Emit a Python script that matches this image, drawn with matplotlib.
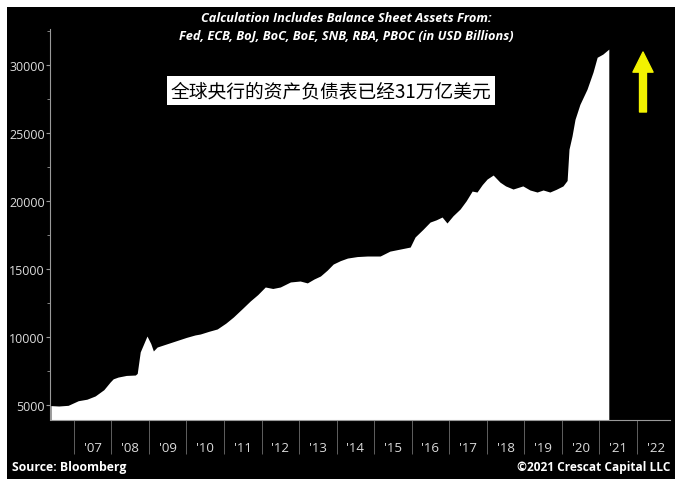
import matplotlib
matplotlib.use("Agg")
import matplotlib.pyplot as plt
from matplotlib.patches import Rectangle
from matplotlib.ticker import FixedLocator, MultipleLocator

plt.rcParams['font.family'] = ['Open Sans', 'DejaVu Sans']

# balance sheet assets, USD billions
years = [2006.39, 2006.60, 2006.85, 2007.12, 2007.35, 2007.57, 2007.80, 2007.97,
         2008.05, 2008.18, 2008.40, 2008.64, 2008.69, 2008.77, 2008.85, 2008.95,
         2009.05, 2009.12, 2009.22, 2009.45, 2009.78, 2010.00, 2010.23, 2010.37,
         2010.60, 2010.82, 2011.05, 2011.25, 2011.50, 2011.70, 2011.90, 2012.10,
         2012.30, 2012.50, 2012.77, 2013.03, 2013.22, 2013.40, 2013.57, 2013.75,
         2013.91, 2014.10, 2014.29, 2014.55, 2014.82, 2015.16, 2015.42, 2015.69,
         2015.96, 2016.09, 2016.30, 2016.49, 2016.65, 2016.81, 2016.94, 2017.10,
         2017.29, 2017.45, 2017.61, 2017.74, 2017.88, 2018.01, 2018.17, 2018.35,
         2018.50, 2018.70, 2018.96, 2019.15, 2019.34, 2019.50, 2019.68, 2019.85,
         2020.03, 2020.14, 2020.19, 2020.27, 2020.35, 2020.48, 2020.67, 2020.83,
         2020.94, 2021.09, 2021.25]
assets = [4930, 4900, 4950, 5290, 5400, 5640, 6100, 6670,
          6900, 7030, 7150, 7180, 7300, 8880, 9400, 10050,
          9500, 8950, 9240, 9450, 9750, 9950, 10130, 10200,
          10400, 10570, 11000, 11450, 12100, 12630, 13100, 13660,
          13550, 13660, 14030, 14100, 13960, 14250, 14470, 14900,
          15350, 15600, 15790, 15900, 15940, 15940, 16300, 16450,
          16600, 17340, 17900, 18440, 18600, 18810, 18370, 18900,
          19400, 20000, 20720, 20650, 21200, 21610, 21900, 21380,
          21100, 20870, 21100, 20800, 20650, 20800, 20650, 20850,
          21100, 21500, 23800, 24770, 26000, 27100, 28220, 29480,
          30570, 30800, 31170]

tick_years = list(range(2007, 2023))
tick_labels = ["'%02d" % (y % 100) for y in tick_years]
y_ticks = [5000, 10000, 15000, 20000, 25000, 30000]

title = "Calculation Includes Balance Sheet Assets From:\nFed, ECB, BoJ, BoC, BoE, SNB, RBA, PBOC (in USD Billions)"
note_cn = "全球央行的资产负债表已经31万亿美元"

W, H = 681, 485
fig = plt.figure(figsize=(W / 100, H / 100), dpi=100, facecolor='white')
fig.patches.append(Rectangle((7 / W, 5 / H), 668 / W, 472 / H, transform=fig.transFigure,
                             facecolor='black', edgecolor='none', zorder=-10))

ax = fig.add_axes([50.5 / W, 64 / H, 619.5 / W, 391 / H])
ax.set_facecolor('black')
ax.set_xlim(2006.38, 2022.88)
ax.set_ylim(3870, 32650)

ax.fill_between(years, assets, 3870, color='white', linewidth=0)

grey = '#9a9a9a'
for s in ['top', 'right']:
    ax.spines[s].set_visible(False)
for s in ['left', 'bottom']:
    ax.spines[s].set_color(grey)
    ax.spines[s].set_linewidth(0.8)

# y axis
ax.set_yticks(y_ticks)
ax.yaxis.set_minor_locator(MultipleLocator(2500))
ax.tick_params(axis='y', which='major', length=3, width=0.8, color=grey,
               labelcolor='#dcdcdc', labelsize=9, pad=1)
ax.tick_params(axis='y', which='minor', length=2, width=0.6, color=grey)

# x axis: long tick lines at year starts, labels centred in each year
ax.xaxis.set_major_locator(FixedLocator(tick_years))
ax.xaxis.set_minor_locator(FixedLocator([y + 0.5 for y in tick_years]))
ax.set_xticklabels([''] * len(tick_years))
ax.set_xticklabels(tick_labels, minor=True)
ax.tick_params(axis='x', which='major', length=24.5, width=0.6, color='#6e6e6e')
ax.tick_params(axis='x', which='minor', length=0, pad=15,
               labelcolor='#dcdcdc', labelsize=9.5)

fig.text(346 / W, 1 - 27.5 / H, title, ha='center', va='center', color='white',
         fontsize=9.2, fontweight='bold', fontstyle='italic', linespacing=1.4)

fig.text(331 / W, 1 - 91.5 / H, note_cn, ha='center', va='center', color='black',
         fontsize=13.5, family=['Noto Sans CJK SC', 'DejaVu Sans'],
         bbox=dict(facecolor='white', edgecolor='none', pad=2.5))

ax.annotate('', xy=(643, H - 53), xycoords='figure pixels',
            xytext=(643, H - 113), textcoords='figure pixels',
            arrowprops=dict(facecolor='#f2f200', edgecolor='#f2f200',
                            width=5, headwidth=14.5, headlength=14.5),
            annotation_clip=False)

fig.text(12 / W, 1 - 468 / H, "Source: Bloomberg", ha='left', va='center',
         color='white', fontsize=8.8, fontweight='bold')
fig.text(670 / W, 1 - 468 / H, "©2021 Crescat Capital LLC", ha='right', va='center',
         color='white', fontsize=8.6, fontweight='bold')

fig.savefig('out.png', dpi=100, facecolor='white')
